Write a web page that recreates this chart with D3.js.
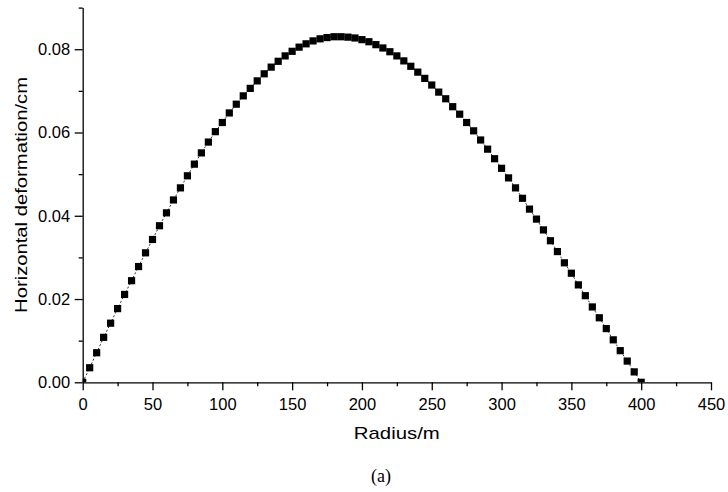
<!DOCTYPE html>
<html>
<head>
<meta charset="utf-8">
<script src="https://cdn.jsdelivr.net/npm/d3@7"></script>
<style>
  body { margin: 0; background: #fff; }
  text { font-family: "Liberation Sans", Arial, sans-serif; }
</style>
</head>
<body>
<svg id="chart"></svg>
<script>
const radius = d3.range(0, 401, 5);

const deformation = [
  0.0000, 0.0035, 0.0071, 0.0108, 0.0142, 0.0177, 0.0211, 0.0244, 0.0278, 0.0311,
  0.0343, 0.0376, 0.0407, 0.0438, 0.0467, 0.0496, 0.0524, 0.0551, 0.0577, 0.0602,
  0.0624, 0.0647, 0.0668, 0.0688, 0.0706, 0.0724, 0.0741, 0.0757, 0.0771, 0.0784,
  0.0795, 0.0805, 0.0813, 0.0820, 0.0825, 0.0828, 0.0830, 0.0830, 0.0829, 0.0827,
  0.0823, 0.0818, 0.0811, 0.0803, 0.0794, 0.0784, 0.0772, 0.0759, 0.0745, 0.0730,
  0.0714, 0.0697, 0.0681, 0.0662, 0.0644, 0.0624, 0.0604, 0.0582, 0.0560, 0.0537,
  0.0514, 0.0491, 0.0467, 0.0442, 0.0416, 0.0392, 0.0366, 0.0340, 0.0314, 0.0287,
  0.0262, 0.0234, 0.0208, 0.0181, 0.0155, 0.0129, 0.0102, 0.0076, 0.0051, 0.0025,
  0.0000
];

const xTicks = d3.range(0, 451, 50);
const yTicks = [0, 0.02, 0.04, 0.06, 0.08];

const width = 728, height = 492;
const margin = {top: 7.6, right: 17, bottom: 109.7, left: 82.7};

const svg = d3.select("#chart")
  .attr("width", width)
  .attr("height", height);

const x = d3.scaleLinear()
  .domain([0, 450])
  .range([margin.left, width - margin.right]);

const y = d3.scaleLinear()
  .domain([0, 0.09])
  .range([height - margin.bottom, margin.top]);

const data = radius.map((r, i) => ({r: r, v: deformation[i]}));

svg.append("clipPath")
  .attr("id", "plot")
  .append("rect")
  .attr("x", x(0))
  .attr("y", y(0.09))
  .attr("width", x(450) - x(0))
  .attr("height", y(0) - y(0.09));

const plot = svg.append("g").attr("clip-path", "url(#plot)");

plot.append("path")
  .datum(data)
  .attr("fill", "none")
  .attr("stroke", "#000")
  .attr("stroke-width", 0.8)
  .attr("stroke-dasharray", "2,2")
  .attr("d", d3.line().x(d => x(d.r)).y(d => y(d.v)));

plot.selectAll("rect.pt")
  .data(data)
  .enter()
  .append("rect")
  .attr("class", "pt")
  .attr("x", d => x(d.r) - 3.6)
  .attr("y", d => y(d.v) - 3.6)
  .attr("width", 7.2)
  .attr("height", 7.2)
  .attr("fill", "#000");

// minor ticks
svg.append("g")
  .attr("transform", `translate(0,${y(0)})`)
  .call(d3.axisBottom(x).tickValues(d3.range(25, 451, 50)).tickSize(4).tickFormat(""))
  .call(g => g.select(".domain").remove());

svg.append("g")
  .attr("transform", `translate(${x(0)},0)`)
  .call(d3.axisLeft(y).tickValues([0.01, 0.03, 0.05, 0.07, 0.09]).tickSize(4).tickFormat(""))
  .call(g => g.select(".domain").remove());

// major axes
svg.append("g")
  .attr("transform", `translate(0,${y(0)})`)
  .call(d3.axisBottom(x).tickValues(xTicks).tickSize(8).tickSizeOuter(0).tickPadding(7.5).tickFormat(d3.format("d")));

svg.append("g")
  .attr("transform", `translate(${x(0)},0)`)
  .call(d3.axisLeft(y).tickValues(yTicks).tickSize(8).tickSizeOuter(0).tickPadding(4.5).tickFormat(d3.format(".2f")));

svg.selectAll(".domain, .tick line")
  .attr("stroke", "#000")
  .attr("stroke-width", 1.3);

svg.selectAll(".tick text")
  .attr("fill", "#000")
  .style("font-size", "16.5px")
  .style("font-family", "'Liberation Sans', Arial, sans-serif");

svg.append("text")
  .attr("x", (x(0) + x(450)) / 2)
  .attr("y", 439)
  .attr("text-anchor", "middle")
  .attr("textLength", 86)
  .attr("lengthAdjust", "spacingAndGlyphs")
  .style("font-size", "17px")
  .text("Radius/m");

svg.append("text")
  .attr("transform", `translate(26.5,${(y(0) + y(0.09)) / 2}) rotate(-90)`)
  .attr("text-anchor", "middle")
  .attr("textLength", 236)
  .attr("lengthAdjust", "spacingAndGlyphs")
  .style("font-size", "17px")
  .text("Horizontal deformation/cm");

svg.append("text")
  .attr("x", 381)
  .attr("y", 482)
  .attr("text-anchor", "middle")
  .style("font-family", "'Liberation Serif', 'Times New Roman', serif")
  .style("font-size", "18px")
  .text("(a)");
</script>
</body>
</html>
